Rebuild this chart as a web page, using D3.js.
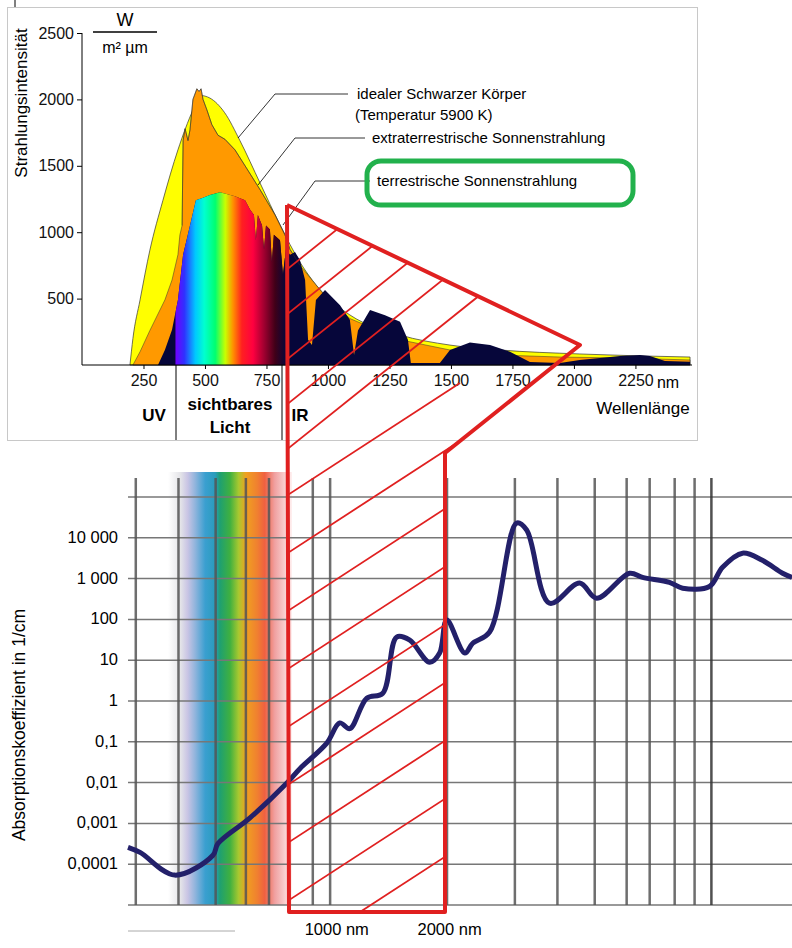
<!DOCTYPE html>
<html>
<head>
<meta charset="utf-8">
<script src="https://cdn.jsdelivr.net/npm/d3@7"></script>
<style>
body { margin: 0; background: #fff; }
text { font-family: "Liberation Sans", Arial, sans-serif; }
</style>
</head>
<body>
<script>
// ---- top chart data (wavelength nm, W/(m² µm)) ----
var blackbody = [[195,0],[207,200],[236,490],[276,865],[329,1240],[390,1620],[451,1920],[480,2030],[520,2010],
  [580,1900],[642,1690],[724,1370],[805,1055],[886,775],[988,527],[1089,377],[1293,226],[1496,150],[1699,113],[2024,83],[2472,60]];
var extraterr = [[207,0],[236,100],[276,260],[337,490],[366,640],[390,830],[398,980],[407,1050],[411,1690],[419,1780],
  [431,1690],[439,1770],[451,2000],[467,2080],[476,2060],[484,2080],[492,2000],[508,1920],[528,1810],[553,1730],[581,1700],
  [622,1620],[663,1500],[724,1320],[785,1130],[825,980],[846,870],[886,750],[988,520],[1089,350],[1293,190],[1496,113],
  [1699,75],[1943,60],[2187,53],[2472,38]];
var terr = [[309,0],[337,113],[366,265],[390,490],[411,830],[439,1050],[463,1240],[492,1260],[520,1280],[561,1300],
  [622,1270],[663,1240],[683,1170],[699,1130],[707,940],[715,1130],[732,1050],[740,870],[748,1050],[764,1020],[772,775],
  [780,980],[805,940],[817,680],[829,870],[846,830],[866,850],[886,790],[907,640],[919,190],[935,150],[951,490],[988,565],
  [1049,450],[1089,340],[1106,75],[1122,260],[1171,415],[1232,375],[1293,325],[1325,190],[1337,15],[1455,15],[1496,113],
  [1577,170],[1659,150],[1740,100],[1821,23],[1943,15],[2024,38],[2187,68],[2268,75],[2309,68],[2370,30],[2472,25]];
var topTicksY = [500,1000,1500,2000,2500];
var topTicksX = [250,500,750,1000,1250,1500,1750,2000,2250];

// ---- bottom chart data (wavelength nm, absorption 1/cm) ----
var absorption = [[286,2.6e-4],[308,1.95e-4],[381,5.4e-5],[482,1.66e-4],[497,3.2e-4],[604,1.35e-3],[759,9.8e-3],
  [822,0.022],[970,0.093],[1050,0.29],[1117,0.21],[1240,1.17],[1368,1.55],[1490,37],[1615,31],[1825,8.9],[1940,15],
  [2026,96],[2265,15],[2377,26],[2637,49],[3113,23000],[3311,15500],[3811,250],[4585,780],[5090,330],[6230,1350],
  [6750,1070],[7960,810],[8630,580],[10180,640],[11030,1900],[12470,4200],[14090,2800],[15950,1350],[16900,1070]];
var gridNm = [300,390,490,590,680,890,990,2030,3080,4000,5030,6120,7050,8220,9290,10300];
var gridAbs = [1e5,1e4,1e3,100,10,1,0.1,0.01,0.001,1e-4,1e-5];
var absLabels = ["10 000","1 000","100","10","1","0,1","0,01","0,001","0,0001"];

var svg = d3.select("body").append("svg").attr("width", 792).attr("height", 948);
var defs = svg.append("defs");

// ================= TOP CHART =================
svg.append("rect").attr("x", 7.5).attr("y", 7.5).attr("width", 690).attr("height", 433)
  .attr("fill", "none").attr("stroke", "#c8c8c8");
svg.append("line").attr("x1", 15).attr("x2", 15).attr("y1", 0).attr("y2", 7).attr("stroke", "#000");

var x1 = d3.scaleLinear().domain([0, 2480]).range([82, 692]);
var y1 = d3.scaleLinear().domain([0, 2500]).range([365, 33]);
var area1 = d3.area().x(function(d){ return x1(d[0]); }).y0(y1(0)).y1(function(d){ return y1(d[1]); });
var line1 = d3.line().x(function(d){ return x1(d[0]); }).y(function(d){ return y1(d[1]); });

svg.append("path").attr("d", area1.curve(d3.curveMonotoneX)(blackbody)).attr("fill", "#ffff00").attr("stroke", "#333").attr("stroke-width", 0.7);
area1.curve(d3.curveLinear);
svg.append("path").attr("d", area1(extraterr)).attr("fill", "#ff9900").attr("stroke", "#333").attr("stroke-width", 0.5);
svg.append("path").attr("d", area1(terr)).attr("fill", "#06063a");

defs.append("clipPath").attr("id", "terrClip").append("path").attr("d", area1(terr));
var rg = defs.append("linearGradient").attr("id", "rainbow").attr("gradientUnits", "userSpaceOnUse")
  .attr("x1", x1(380)).attr("x2", x1(830)).attr("y1", 0).attr("y2", 0);
[[0,"#7000ff"],[0.08,"#3030ff"],[0.18,"#00c8ff"],[0.26,"#00ffd0"],[0.36,"#00ff70"],[0.45,"#c8ff00"],
 [0.52,"#ff9000"],[0.6,"#ff2020"],[0.7,"#ff0040"],[0.8,"#a00030"],[0.9,"#400018"],[1,"#06063a"]]
  .forEach(function(s){ rg.append("stop").attr("offset", s[0]).attr("stop-color", s[1]); });
svg.append("rect").attr("clip-path", "url(#terrClip)").attr("x", x1(380)).attr("y", 30)
  .attr("width", x1(830) - x1(380)).attr("height", 340).attr("fill", "url(#rainbow)");
svg.append("path").attr("d", line1(extraterr.filter(function(d){ return d[0] > 400 && d[0] < 900; })))
  .attr("fill", "none").attr("stroke", "#333").attr("stroke-width", 0.5);

// axes
var ay = svg.append("g").attr("transform", "translate(82,0)")
  .call(d3.axisLeft(y1).tickValues(topTicksY).tickSize(5).tickFormat(d3.format("d")));
ay.select(".domain").attr("d", "M0," + y1(2500) + "V" + y1(0));
ay.attr("font-size", 16).attr("font-family", "Liberation Sans, Arial");
ay.selectAll("text").attr("fill", "#111");
var ax = svg.append("g").attr("transform", "translate(0,365)")
  .call(d3.axisBottom(x1).tickValues(topTicksX).tickSize(4).tickFormat(d3.format("d")));
ax.select(".domain").attr("d", "M82,0H692");
ax.attr("font-size", 16).attr("font-family", "Liberation Sans, Arial");
ax.selectAll("text").attr("fill", "#111").attr("dy", "0.85em");

svg.append("text").attr("transform", "translate(27,103) rotate(-90)").attr("text-anchor", "middle")
  .attr("font-size", 17).text("Strahlungsintensität");
svg.append("text").attr("x", 125).attr("y", 26).attr("text-anchor", "middle").attr("font-size", 18).text("W");
svg.append("line").attr("x1", 93).attr("x2", 157).attr("y1", 32).attr("y2", 32).attr("stroke", "#000").attr("stroke-width", 1.5);
svg.append("text").attr("x", 125).attr("y", 53).attr("text-anchor", "middle").attr("font-size", 16).text("m² µm");
svg.append("text").attr("x", 668).attr("y", 388).attr("text-anchor", "middle").attr("font-size", 16).text("nm");
svg.append("text").attr("x", 643).attr("y", 414).attr("text-anchor", "middle").attr("font-size", 17).text("Wellenlänge");

[176, 282].forEach(function(px){
  svg.append("line").attr("x1", px).attr("x2", px).attr("y1", 365).attr("y2", 440).attr("stroke", "#000");
});
svg.append("text").attr("x", 154).attr("y", 421).attr("text-anchor", "middle").attr("font-size", 17).attr("font-weight", "bold").text("UV");
svg.append("text").attr("x", 230).attr("y", 410).attr("text-anchor", "middle").attr("font-size", 17).attr("font-weight", "bold").text("sichtbares");
svg.append("text").attr("x", 230).attr("y", 433).attr("text-anchor", "middle").attr("font-size", 17).attr("font-weight", "bold").text("Licht");
svg.append("text").attr("x", 300).attr("y", 421).attr("text-anchor", "middle").attr("font-size", 17).attr("font-weight", "bold").text("IR");

// labels with leaders
var leaders = [
  {pts: [[238,138],[275,94],[348,94]], tx: 357, ty: 99, t: "idealer Schwarzer Körper"},
  {pts: [[258,185],[295,138],[365,138]], tx: 372, ty: 143, t: "extraterrestrische Sonnenstrahlung"},
  {pts: [[283,225],[315,181],[370,181]], tx: 377, ty: 186, t: "terrestrische Sonnenstrahlung"}
];
leaders.forEach(function(l){
  svg.append("path").attr("d", d3.line()(l.pts)).attr("fill", "none").attr("stroke", "#000").attr("stroke-width", 0.8);
  svg.append("text").attr("x", l.tx).attr("y", l.ty).attr("font-size", 15).text(l.t);
});
svg.append("text").attr("x", 355).attr("y", 120).attr("font-size", 15).text("(Temperatur 5900 K)");
svg.append("rect").attr("x", 367).attr("y", 161).attr("width", 266).attr("height", 44).attr("rx", 14)
  .attr("fill", "none").attr("stroke", "#22b14c").attr("stroke-width", 5);

// ================= BOTTOM CHART =================
var x2 = d3.scaleLog().domain([286, 16900]).range([128, 792]);
var y2 = d3.scaleLog().domain([1e-5, 1e5]).range([905, 497]);

var sg = defs.append("linearGradient").attr("id", "band").attr("gradientUnits", "userSpaceOnUse")
  .attr("x1", 168).attr("x2", 292).attr("y1", 0).attr("y2", 0);
[[0,"#ffffff"],[0.1,"#e4e4e8"],[0.16,"#c8c4e4"],[0.22,"#8fb4dc"],[0.3,"#3a9fd0"],[0.38,"#2a9cbc"],[0.42,"#1fa070"],
 [0.5,"#3fb040"],[0.57,"#a8c830"],[0.63,"#f0a020"],[0.72,"#f08030"],[0.78,"#f06040"],[0.86,"#f0a0a0"],[1,"#fff0f0"]]
  .forEach(function(s){ sg.append("stop").attr("offset", s[0]).attr("stop-color", s[1]); });
svg.append("rect").attr("x", 168).attr("y", 472).attr("width", 124).attr("height", 433).attr("fill", "url(#band)");

svg.selectAll(".hgrid").data(gridAbs).enter().append("line").attr("class", "hgrid")
  .attr("x1", 128).attr("x2", 792).attr("y1", function(d){ return y2(d); }).attr("y2", function(d){ return y2(d); })
  .attr("stroke", "#777").attr("stroke-width", 1.5);
svg.selectAll(".vgrid").data(gridNm).enter().append("line").attr("class", "vgrid")
  .attr("x1", function(d){ return x2(d); }).attr("x2", function(d){ return x2(d); })
  .attr("y1", 478).attr("y2", 905).attr("stroke", function(d, i){ return i === 15 ? "#333" : "#555"; })
  .attr("stroke-width", 2.5).attr("opacity", 0.85);

svg.selectAll(".ylab").data(absLabels).enter().append("text").attr("class", "ylab")
  .attr("x", 118).attr("y", function(d, i){ return y2(gridAbs[i + 1]) + 5; }).attr("text-anchor", "end")
  .attr("font-family", "Open Sans, sans-serif").attr("font-size", 16.5).text(function(d){ return d; });
svg.append("text").attr("transform", "translate(25,725) rotate(-90)").attr("text-anchor", "middle")
  .attr("font-family", "Open Sans, sans-serif").attr("font-size", 17.5).text("Absorptionskoeffizient in 1/cm");

svg.append("path").datum(absorption)
  .attr("d", d3.line().curve(d3.curveCatmullRom).x(function(d){ return x2(d[0]); }).y(function(d){ return y2(d[1]); }))
  .attr("fill", "none").attr("stroke", "#23206a").attr("stroke-width", 5).attr("stroke-linejoin", "round");

svg.append("line").attr("x1", 128).attr("x2", 235).attr("y1", 931).attr("y2", 931).attr("stroke", "#aaa");
svg.append("text").attr("x", x2(1000) + 5).attr("y", 935).attr("text-anchor", "middle")
  .attr("font-family", "Open Sans, sans-serif").attr("font-size", 16.5).text("1000 nm");
svg.append("text").attr("x", x2(2000) + 5).attr("y", 935).attr("text-anchor", "middle")
  .attr("font-family", "Open Sans, sans-serif").attr("font-size", 16.5).text("2000 nm");

// ================= RED HATCHED OVERLAY =================
var poly = [[287,205],[580,345],[445,453],[445,912],[289,912],[287,205]];
defs.append("clipPath").attr("id", "polyClip").append("path").attr("d", d3.line()(poly));
var hatch = svg.append("g").attr("clip-path", "url(#polyClip)");
for (var k = 0; k < 12; k++) {
  var yy = 275 + k * 45;
  if (yy < 470) hatch.append("line").attr("x1", 280).attr("y1", yy).attr("x2", 600).attr("y2", yy - 256)
    .attr("stroke", "#e02020").attr("stroke-width", 1.8);
}
for (var m = 0; m < 9; m++) {
  var yb = 500 + m * 58;
  hatch.append("line").attr("x1", 280).attr("y1", yb).attr("x2", 460).attr("y2", yb - 117)
    .attr("stroke", "#e02020").attr("stroke-width", 1.8);
}
svg.append("path").attr("d", d3.line()(poly)).attr("fill", "none").attr("stroke", "#e02020")
  .attr("stroke-width", 4).attr("stroke-linejoin", "round");
</script>
</body>
</html>
